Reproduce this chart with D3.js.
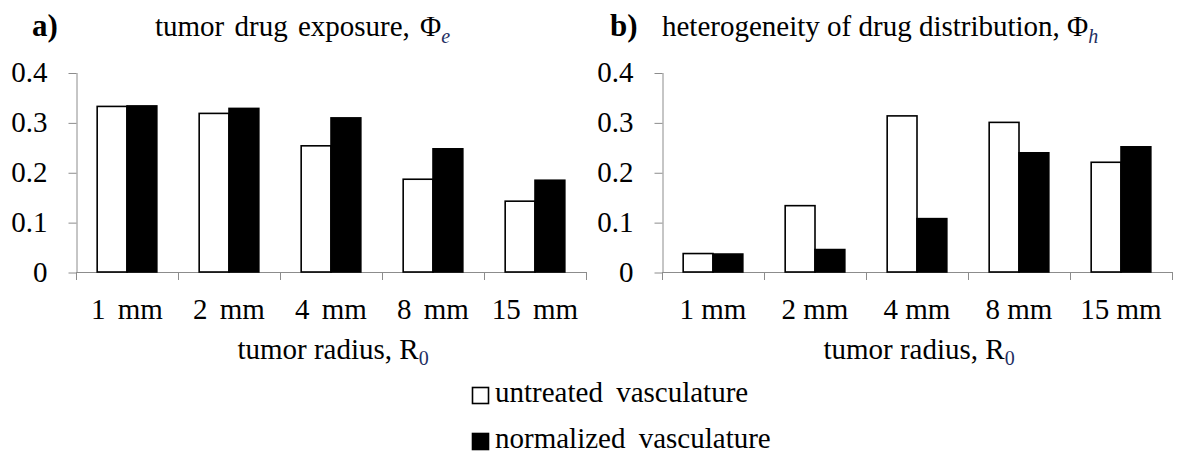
<!DOCTYPE html>
<html>
<head>
<meta charset="utf-8">
<script src="https://cdn.jsdelivr.net/npm/d3@7"></script>
<style>
  html, body { margin: 0; padding: 0; background: #fff; }
  svg { display: block; }
</style>
</head>
<body>
<svg id="chart" width="1177" height="453"></svg>
<script>
// Tumor radius categories
const radii = ["1 mm", "2 mm", "4 mm", "8 mm", "15 mm"];
const seriesNames = ["untreated vasculature", "normalized vasculature"];
const yTicks = [0, 0.1, 0.2, 0.3, 0.4];

// a) tumor drug exposure, Φe
const exposureUntreated  = [0.332, 0.318, 0.253, 0.186, 0.142];
const exposureNormalized = [0.333, 0.328, 0.309, 0.247, 0.184];

// b) heterogeneity of drug distribution, Φh
const heteroUntreated  = [0.037, 0.133, 0.313, 0.300, 0.220];
const heteroNormalized = [0.036, 0.045, 0.107, 0.239, 0.251];

const FONT = '"Liberation Serif", "Times New Roman", Times, serif';
const svg = d3.select("#chart").style("font-family", FONT);
const axisColor = "#8c8c8c";
const subColor = "#1f2f63";

const y = d3.scaleLinear().domain([0, 0.4]).range([272, 72.5]);

function drawPanel(opts) {
  const g = svg.append("g");
  const x = d3.scaleBand().domain(radii).range([opts.x0, opts.x1]).paddingInner(0).paddingOuter(0);
  const xs = d3.scaleBand().domain(seriesNames).range([0, x.bandwidth()]).paddingInner(0).paddingOuter(0.71);

  // y axis
  const yAxis = d3.axisLeft(y).tickValues(yTicks).tickSize(8).tickSizeOuter(0).tickPadding(21)
    .tickFormat(d => d === 0 ? "0" : d3.format(".1f")(d));
  const ya = g.append("g").attr("transform", `translate(${opts.x0 + 0.5},0)`).call(yAxis)
    .attr("font-family", null).attr("font-size", null);
  ya.select(".domain").attr("stroke", axisColor);
  ya.selectAll(".tick line").attr("stroke", axisColor).attr("transform", "translate(0,0.5)");
  ya.selectAll(".tick text").style("font-family", FONT).style("font-size", "29px").attr("fill", "#000");

  // x axis baseline and category boundary ticks
  g.append("line")
    .attr("x1", opts.x0).attr("x2", opts.x1 + 0.5)
    .attr("y1", y(0) + 0.5).attr("y2", y(0) + 0.5)
    .attr("stroke", axisColor);
  const bounds = radii.map(r => x(r)).concat([x.range()[1]]);
  g.selectAll(".bnd").data(bounds).join("line")
    .attr("x1", d => Math.round(d) + 0.5).attr("x2", d => Math.round(d) + 0.5)
    .attr("y1", y(0)).attr("y2", y(0) + 8)
    .attr("stroke", axisColor);

  // category labels
  g.selectAll(".cat").data(radii).join("text")
    .attr("x", d => x(d) + x.bandwidth() / 2)
    .attr("y", 319)
    .attr("text-anchor", "middle")
    .style("font-family", FONT).style("font-size", "29px")
    .attr("word-spacing", opts.catSpacing)
    .text(d => d);

  // bars
  const rows = radii.map((r, i) => ({ r, vals: [opts.untreated[i], opts.normalized[i]] }));
  const grp = g.selectAll(".grp").data(rows).join("g")
    .attr("transform", d => `translate(${x(d.r)},0)`);
  grp.selectAll("rect").data(d => d.vals.map((v, k) => ({ s: seriesNames[k], v, k }))).join("rect")
    .attr("x", d => xs(d.s))
    .attr("y", d => y(d.v))
    .attr("width", xs.bandwidth())
    .attr("height", d => y(0) - y(d.v))
    .attr("fill", d => d.k === 0 ? "#fff" : "#000")
    .attr("stroke", "#000")
    .attr("stroke-width", 1.6);

  // panel letter and title
  g.append("text").attr("x", opts.letterX).attr("y", 36)
    .style("font-family", FONT).style("font-size", "31px").attr("font-weight", "bold").text(opts.letter);
  const t = g.append("text").attr("x", opts.titleX).attr("y", 36)
    .style("font-family", FONT).style("font-size", "29px").attr("word-spacing", opts.titleSpacing);
  t.append("tspan").text(opts.title);
  t.append("tspan").attr("dy", 7).style("font-size", "20px").attr("font-style", "italic")
    .attr("fill", subColor).text(opts.sub);

  // axis title
  const at = g.append("text")
    .attr("x", (opts.x0 + opts.x1) / 2 + 2).attr("y", 359)
    .attr("text-anchor", "middle")
    .style("font-family", FONT).style("font-size", "29px");
  at.append("tspan").text("tumor radius, R");
  at.append("tspan").attr("dy", 6).style("font-size", "20px").attr("fill", subColor).text("0");
}

drawPanel({
  x0: 76, x1: 586, letter: "a)", letterX: 32, titleX: 155, titleSpacing: 3,
  title: "tumor drug exposure, Φ", sub: "e", catSpacing: 5,
  untreated: exposureUntreated, normalized: exposureNormalized
});

drawPanel({
  x0: 662, x1: 1172, letter: "b)", letterX: 610, titleX: 662, titleSpacing: 0,
  title: "heterogeneity of drug distribution, Φ", sub: "h", catSpacing: 0,
  untreated: heteroUntreated, normalized: heteroNormalized
});

// legend
const legend = svg.append("g");
const legendRows = seriesNames.map((name, i) => ({ name, i }));
legend.selectAll("rect").data(legendRows).join("rect")
  .attr("x", 472.5).attr("y", d => 387.5 + d.i * 46)
  .attr("width", 16).attr("height", 16)
  .attr("fill", d => d.i === 0 ? "#fff" : "#000")
  .attr("stroke", "#000").attr("stroke-width", 1.6);
legend.selectAll("text").data(legendRows).join("text")
  .attr("x", 495).attr("y", d => 402 + d.i * 46)
  .style("font-family", FONT).style("font-size", "29px").attr("word-spacing", 6)
  .text(d => d.name);
</script>
</body>
</html>
